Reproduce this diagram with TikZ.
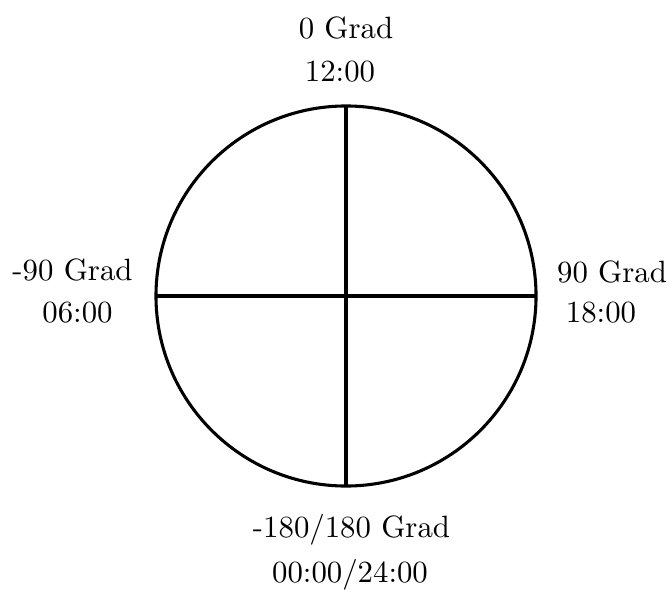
\documentclass[tikz,border=0pt]{standalone}
\begin{document}
\begin{tikzpicture}[x=0.3247pt,y=-0.3247pt,
  lbl/.style={anchor=base,inner sep=0pt,font=\fontsize{10}{12}\selectfont},
  ln/.style={line width=1pt}]
\useasboundingbox (0,0) rectangle (671,596);
\node[circle,draw,ln,minimum size=123.4pt,inner sep=0pt,outer sep=0pt] (c) at (346,296) {};
\draw[ln] (c.north) -- (c.south);
\draw[ln] (c.west) -- (c.east);
\node[lbl] (t1) at (346,39) {0 Grad};
\node[lbl] (t2) at (340,82) {12:00};
\node[lbl] (l1) at (72.5,280) {-90 Grad};
\node[lbl] (l2) at (77.5,322) {06:00};
\node[lbl] (r1) at (612,282) {90 Grad};
\node[lbl] (r2) at (601,322) {18:00};
\node[lbl] (b1) at (351.5,537) {-180/180 Grad};
\node[lbl] (b2) at (350,582) {00:00/24:00};
\end{tikzpicture}
\end{document}
